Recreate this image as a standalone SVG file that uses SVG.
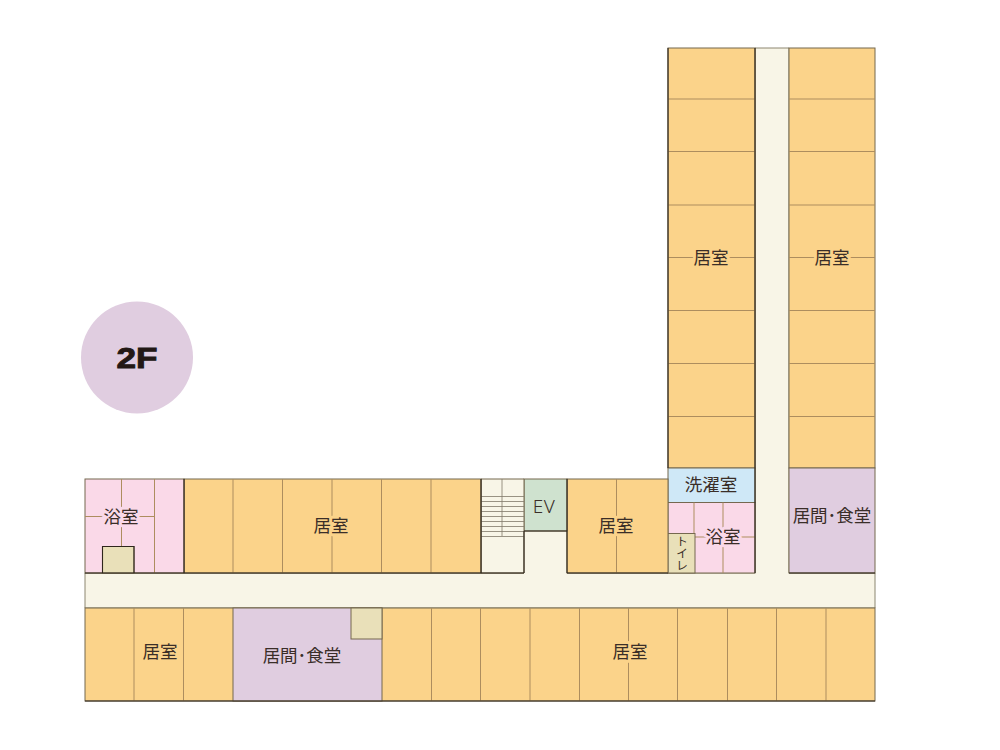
<svg xmlns="http://www.w3.org/2000/svg" width="1000" height="750" viewBox="0 0 1000 750">
<style>
.r{stroke:#75684f;stroke-width:1}
.o{fill:#fbd38a}.c{fill:#f8f5e7}.p{fill:#fad9e8}.l{fill:#e0cde0}.b{fill:#cfe8f7}.g{fill:#cfe2cf}.t{fill:#e9e0b9}
.d{stroke:#ad8d5e;stroke-width:1;fill:none}
.s{stroke:#80796a;stroke-width:.8;fill:none}
.k{stroke:#2e261c;stroke-width:1.100;fill:none}
text{font-family:"Noto Sans CJK JP","Noto Sans",sans-serif;font-size:17.500px;fill:#3a2e28;text-anchor:middle}
.h{paint-order:stroke;stroke-width:6px;stroke-linejoin:round}
</style>
<rect width="1000" height="750" fill="#fff"/>
<circle cx="137" cy="357.500" r="56" fill="#e0cde0"/>
<text x="137" y="368" textLength="41" lengthAdjust="spacingAndGlyphs" style="font-family:'Liberation Sans',sans-serif;font-weight:bold;font-size:29px;fill:#231815;stroke:#231815;stroke-width:.9">2F</text>
<path class="c" d="M85 573H755V48H789V573H875V608H85Z" stroke="#8c8670" stroke-width="1"/>
<rect class="c" x="524" y="531" width="43" height="44"/>
<rect class="r o" x="668" y="48" width="87" height="420"/>
<rect class="r o" x="789" y="48" width="86" height="420"/>
<path class="d" d="M668 99H755M668 151.500H755M668 205H755M668 257.500H755M668 310.500H755M668 363.500H755M668 416.500H755M789 99H875M789 151.500H875M789 205H875M789 257.500H875M789 310.500H875M789 363.500H875M789 416.500H875"/>
<rect class="r b" x="668" y="468" width="87" height="34.500"/>
<rect class="r p" x="668" y="502.500" width="87" height="70.500"/>
<path class="d" d="M694 502.500V573M723 502.500V573M694 537H755"/>
<rect class="r t" x="668" y="533.500" width="27" height="39.500"/>
<rect class="r l" x="789" y="468" width="86" height="105"/>
<rect class="r o" x="567" y="479" width="101" height="94"/>
<path class="d" d="M616.500 479V573"/>
<rect class="r g" x="524" y="479" width="43" height="52"/>
<path class="r c" d="M481 479H524V573H481Z"/>
<path class="s" d="M502 479V536M481 496.500H524M481 501.500H524M481 506.500H524M481 511.500H524M481 516.500H524M481 521.500H524M481 526.500H524M481 531.500H524M481 536.500H524"/>
<rect class="r o" x="184" y="479" width="297" height="94"/>
<path class="d" d="M233 479V573M282.500 479V573M332 479V573M381.500 479V573M431 479V573"/>
<rect class="r p" x="85" y="479" width="99" height="94"/>
<path class="d" d="M121.500 479V573M154.500 479V573M85 516.500H154"/>
<rect class="r t" x="102.500" y="546.500" width="31.500" height="26.500"/>
<rect class="r o" x="85" y="608" width="790" height="93"/>
<path class="d" d="M134 608V701M183.500 608V701M431.500 608V701M480.500 608V701M530 608V701M579.500 608V701M628.500 608V701M677.500 608V701M727.500 608V701M776.500 608V701M826 608V701"/>
<rect class="r l" x="233" y="608" width="149" height="93"/>
<rect class="r t" x="351" y="608" width="31" height="31"/>
<path class="k" d="M668 48V468M755 48V573M85 573H524M567 573H668M184 479V573M481 479V573M524 531V573M567 479V573M524 531H567M85 701H875M789 573H875M102.500 573V546.500H134V573"/>
<g id="labels">
<text class="h" x="711" y="263.500" stroke="#fbd38a">居室</text>
<text class="h" x="832" y="263.500" stroke="#fbd38a">居室</text>
<text x="711" y="490.500">洗濯室</text>
<text class="h" x="723" y="542.500" stroke="#fad9e8">浴室</text>
<text x="832" y="522">居間･食堂</text>
<text class="h" x="616" y="531.500" stroke="#fbd38a">居室</text>
<text x="544" y="513" style="font-family:'Noto Sans',sans-serif;font-weight:300;font-size:19px;letter-spacing:.5px">EV</text>
<text class="h" x="331" y="531.500" stroke="#fbd38a">居室</text>
<text class="h" x="121" y="522.500" stroke="#fad9e8">浴室</text>
<text class="h" x="160" y="658" stroke="#fbd38a">居室</text>
<text x="302" y="661.500">居間･食堂</text>
<text class="h" x="630" y="658" stroke="#fbd38a">居室</text>
<text x="682" y="553" style="font-size:12px;writing-mode:vertical-rl;text-anchor:middle">トイレ</text>
</g>
</svg>
